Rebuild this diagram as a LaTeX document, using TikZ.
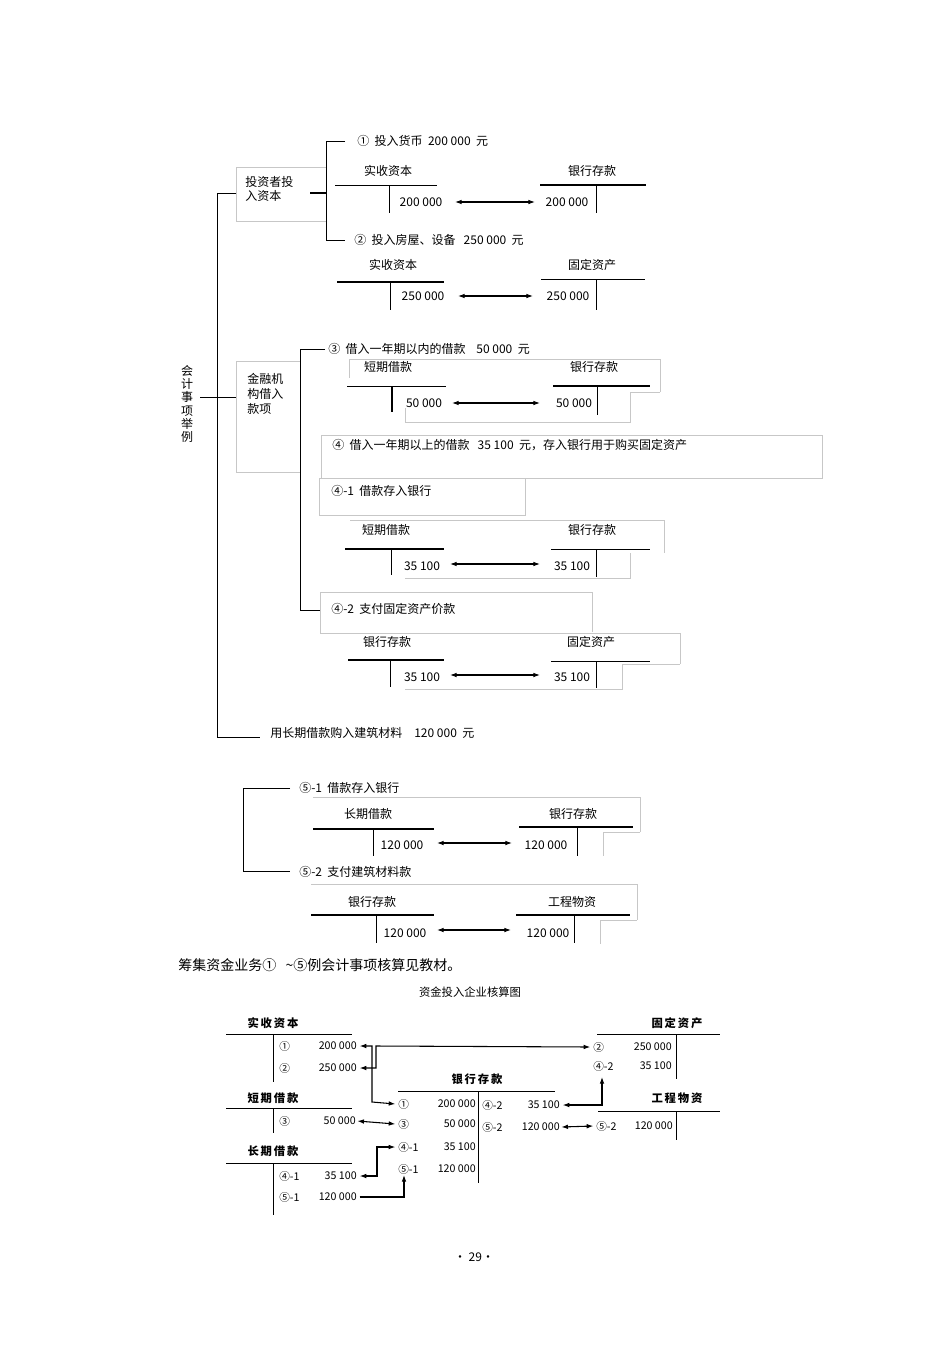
\documentclass[tikz,border=0pt]{standalone}
\usepackage{fontspec}
\setmainfont{Noto Sans CJK SC}
\usetikzlibrary{arrows.meta}
\begin{document}
\begin{tikzpicture}[x=0.75pt,y=-0.75pt,font=\fontsize{9}{11}\selectfont,
  t/.style={inner sep=0pt,anchor=west},
  c/.style={inner sep=0pt},
  ln/.style={line width=0.6pt},
  thk/.style={line width=1.2pt},
  gb/.style={draw=black!22,line width=0.5pt},
  dar/.style={{Latex[length=5pt,width=3.5pt]}-{Latex[length=5pt,width=3.5pt]},line width=0.8pt},
  sar/.style={-{Latex[length=5pt,width=3.5pt]},line width=0.8pt},
  bh/.style={inner sep=0pt,font=\fontsize{8.5}{10}\selectfont\bfseries},
  bn/.style={inner sep=0pt,font=\fontsize{8}{10}\selectfont}]
\useasboundingbox (0,0) rectangle (950,1345);
% ---- category boxes
\draw[gb] (236,167) rectangle (326,221);
\node[t,align=left] (b1) at (245,189) {投资者投\\入资本};
\draw[gb] (236,361) rectangle (300,472);
\node[t,align=left] (b2) at (247,394) {金融机\\构借入\\款项};
\node[c,align=center] (root) at (187,404) {会\\[-1pt]计\\[-1pt]事\\[-1pt]项\\[-1pt]举\\[-1pt]例};
% main bracket
\coordinate (m1) at (217,193); \coordinate (m2) at (217,737);
\draw[ln] (236,193) -- (m1) -- (m2) -- (260,737);
\draw[ln] (200,397) -- (236,397);
\node[t] (i5) at (270,733) {用长期借款购入建筑材料\quad 120 000\ \ 元};
% ---- group 1
\draw[thk] (310,193) -- (326,193);
\draw[ln] (345,141) -- (326,141) -- (326,240) -- (345,240);
\node[t] (i1) at (357,141) {①\ \ 投入货币\ \ 200 000\ \ 元};
\node[c] (a1) at (388,171) {实收资本};
\draw[ln] (335,185) -- (437,185); \draw[ln] (389,185) -- (389,213);
\node[c] (a1n) at (421,202) {200 000};
\node[c] (a2) at (592,171) {银行存款};
\draw[thk] (540,185) -- (646,185); \draw[ln] (596,185) -- (596,213);
\node[c] (a2n) at (567,202) {200 000};
\draw[dar] (455,202) -- (535,202);
\node[t] (i2) at (354,240) {②\ \ 投入房屋、设备\ \ \ 250 000\ \ 元};
\node[c] (a3) at (393,265) {实收资本};
\draw[thk] (337,282) -- (444,282); \draw[ln] (390,282) -- (390,310);
\node[c] (a3n) at (423,296) {250 000};
\node[c] (a4) at (592,265) {固定资产};
\draw[ln] (541,279) -- (645,279); \draw[ln] (596,279) -- (596,310);
\node[c] (a4n) at (568,296) {250 000};
\draw[dar] (458,296) -- (533,296);
% ---- group 2
\draw[ln] (325,349) -- (300,349) -- (300,610) -- (320,610);
\node[t] (i3) at (328,349) {③\ \ 借入一年期以内的借款\ \ \ \ 50 000\ \ 元};
\draw[gb] (349,359) -- (349,378) (349,359) -- (660,359) -- (660,392) (630,392) -- (660,392) (630,392)--(630,422)--(405,422)--(405,408);
\node[c] (a5) at (388,367) {短期借款};
\draw[ln] (347,386) -- (446,386); \draw[thk] (392,386) -- (392,412);
\node[c] (a5n) at (424,403) {50 000};
\node[c] (a6) at (594,367) {银行存款};
\draw[thk] (553,386) -- (650,386); \draw[ln] (597,386) -- (597,415);
\node[c] (a6n) at (574,403) {50 000};
\draw[dar] (452,403) -- (540,403);
\draw[gb] (321,435) rectangle (822,478);
\node[t] (i4) at (332,445) {④\ \ 借入一年期以上的借款\ \ \ 35 100\ \ 元，存入银行用于购买固定资产};
\draw[gb] (319,478) rectangle (525,515);
\node[t] (i41) at (331,491) {④-1\ \ 借款存入银行};
\draw[gb] (350,520) -- (664,520) -- (664,553) (630,553)--(630,578)--(405,578);
\node[c] (a7) at (386,530) {短期借款};
\draw[thk] (345,549) -- (444,549); \draw[ln] (391,549) -- (391,575);
\node[c] (a7n) at (422,566) {35 100};
\node[c] (a8) at (592,530) {银行存款};
\draw[ln] (551,549) -- (650,549); \draw[ln] (596,549) -- (596,577);
\node[c] (a8n) at (572,566) {35 100};
\draw[dar] (450,564) -- (540,564);
\draw[gb] (320,592) -- (592,592) -- (592,632) (320,592)--(320,633)--(348,633);
\node[t] (i42) at (331,609) {④-2\ \ 支付固定资产价款};
\draw[gb] (348,633) -- (680,633) -- (680,664) (622,664)--(680,664) (622,664)--(622,689)--(405,689);
\node[c] (a9) at (387,642) {银行存款};
\draw[thk] (348,660) -- (444,660); \draw[ln] (390,660) -- (390,687);
\node[c] (a9n) at (422,677) {35 100};
\node[c] (a10) at (591,642) {固定资产};
\draw[ln] (551,661) -- (650,661); \draw[ln] (596,661) -- (596,688);
\node[c] (a10n) at (572,677) {35 100};
\draw[dar] (450,675) -- (540,675);
% ---- group 5
\draw[ln] (290,788) -- (243,788) -- (243,871) -- (290,871);
\node[t] (i51) at (299,788) {⑤-1\ \ 借款存入银行};
\draw[gb] (313,797) -- (640,797) -- (640,832) (603,832)--(640,832) (603,832)--(603,856);
\node[c] (a11) at (368,814) {长期借款};
\draw[thk] (313,829) -- (434,829); \draw[ln] (373,829) -- (373,856);
\node[c] (a11n) at (402,845) {120 000};
\node[c] (a12) at (573,814) {银行存款};
\draw[thk] (519,827) -- (633,827); \draw[ln] (577,827) -- (577,856);
\node[c] (a12n) at (546,845) {120 000};
\draw[dar] (437,843) -- (512,843);
\node[t] (i52) at (299,872) {⑤-2\ \ 支付建筑材料款};
\draw[gb] (311,884) -- (637,884) -- (637,920) (600,920)--(637,920) (600,920)--(600,944);
\node[c] (a13) at (372,902) {银行存款};
\draw[thk] (311,915) -- (434,915); \draw[ln] (376,915) -- (376,943);
\node[c] (a13n) at (405,933) {120 000};
\node[c] (a14) at (572,902) {工程物资};
\draw[thk] (516,915) -- (630,915); \draw[ln] (574,915) -- (574,943);
\node[c] (a14n) at (548,933) {120 000};
\draw[dar] (437,930) -- (511,930);
\node[t,font=\fontsize{10.5}{12}\selectfont] (cap) at (178,965) {筹集资金业务①\ \ \ \textasciitilde⑤例会计事项核算见教材。};
\node[c,font=\fontsize{8.5}{10}\selectfont] (ttl) at (470,992) {资金投入企业核算图};
% ---- bottom summary diagram
\node[bh] (h1) at (273,1023) {实\,收\,资\,本};
\draw[ln] (226,1034) -- (352,1034); \draw[ln] (273,1034) -- (273,1082);
\node[bn,anchor=west] at (279,1046) {①}; \node[bn,anchor=east] (s1) at (357,1046) {200 000};
\node[bn,anchor=west] at (279,1068) {②}; \node[bn,anchor=east] (s2) at (357,1068) {250 000};
\node[bh] (h2) at (677,1023) {固\,定\,资\,产};
\draw[ln] (597,1034) -- (720,1034); \draw[ln] (676,1034) -- (676,1079);
\node[bn,anchor=west] (f1) at (593,1047) {②}; \node[bn,anchor=east] at (672,1047) {250 000};
\node[bn,anchor=west] (f2) at (593,1066) {④-2}; \node[bn,anchor=east] at (672,1066) {35 100};
\node[bh] (h3) at (477,1079) {银\,行\,存\,款};
\draw[ln] (398,1091) -- (555,1091); \draw[ln] (478,1091) -- (478,1183);
\node[bn,anchor=west] (y1) at (398,1104) {①}; \node[bn,anchor=east] at (476,1104) {200 000};
\node[bn,anchor=west] (y2) at (398,1124) {③}; \node[bn,anchor=east] at (476,1124) {50 000};
\node[bn,anchor=west] (y3) at (398,1147) {④-1}; \node[bn,anchor=east] at (476,1147) {35 100};
\node[bn,anchor=west] (y4) at (398,1169) {⑤-1}; \node[bn,anchor=east] at (476,1169) {120 000};
\node[bn,anchor=west] at (482,1105) {④-2}; \node[bn,anchor=east] (y5) at (560,1105) {35 100};
\node[bn,anchor=west] at (482,1127) {⑤-2}; \node[bn,anchor=east] (y6) at (560,1127) {120 000};
\node[bh] (h4) at (273,1098) {短\,期\,借\,款};
\draw[ln] (226,1108) -- (352,1108); \draw[ln] (273,1108) -- (273,1133);
\node[bn,anchor=west] at (279,1121) {③}; \node[bn,anchor=east] (d1) at (356,1121) {50 000};
\node[bh] (h5) at (677,1098) {工\,程\,物\,资};
\draw[ln] (598,1111) -- (720,1111); \draw[ln] (676,1111) -- (676,1140);
\node[bn,anchor=west] (g1) at (596,1126) {⑤-2}; \node[bn,anchor=east] at (673,1126) {120 000};
\node[bh] (h6) at (273,1151) {长\,期\,借\,款};
\draw[ln] (226,1163) -- (352,1163); \draw[ln] (273,1163) -- (273,1215);
\node[bn,anchor=west] at (279,1176) {④-1}; \node[bn,anchor=east] (c1) at (357,1176) {35 100};
\node[bn,anchor=west] at (279,1197) {⑤-1}; \node[bn,anchor=east] (c2) at (357,1197) {120 000};
% arrows
\draw[dar] ([xshift=2pt]s1.east) -- (372,1046) -- (372,1102) -- ([xshift=-2pt]y1.west);
\draw[dar] ([xshift=2pt]s2.east) -- (376,1068) -- (376,1046) -- ([xshift=-2pt]f1.west);
\draw[dar] ([xshift=1pt]d1.east) -- ([xshift=-2pt]y2.west);
\draw[dar] ([xshift=2pt]c1.east) -- (377,1176) -- (377,1147) -- ([xshift=-2pt]y3.west);
\draw[sar] ([xshift=2pt]c2.east) -- (404,1197) -- (404,1175);
\draw[dar] ([xshift=2pt]y5.east) -- (602,1105) -- (602,1077);
\draw[dar] ([xshift=1pt]y6.east) -- ([xshift=-2pt]g1.west);
\node[c] (pg) at (474,1257) {·\ 29·};
\end{tikzpicture}
\end{document}
